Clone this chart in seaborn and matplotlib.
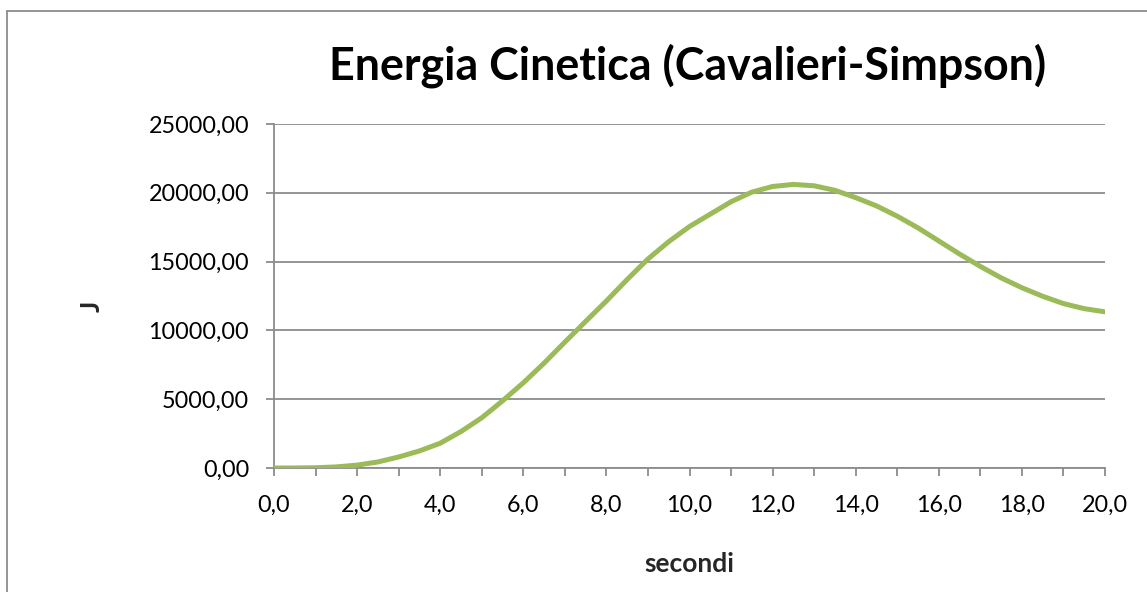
import numpy as np
import pandas as pd
import matplotlib
matplotlib.use("Agg")
import matplotlib.pyplot as plt
from matplotlib.lines import Line2D
from matplotlib.ticker import FuncFormatter, MultipleLocator
import seaborn as sns

# Kinetic energy (J) sampled every half second
tempo = [0.0, 0.5, 1.0, 1.5, 2.0, 2.5, 3.0, 3.5, 4.0, 4.5, 5.0,
         5.5, 6.0, 6.5, 7.0, 7.5, 8.0, 8.5, 9.0, 9.5, 10.0,
         10.5, 11.0, 11.5, 12.0, 12.5, 13.0, 13.5, 14.0, 14.5, 15.0,
         15.5, 16.0, 16.5, 17.0, 17.5, 18.0, 18.5, 19.0, 19.5, 20.0]
energia = [0, 2, 20, 80, 210, 440, 800, 1240, 1800, 2650, 3650,
           4880, 6190, 7620, 9150, 10650, 12140, 13700, 15190, 16450, 17550,
           18450, 19350, 20050, 20460, 20610, 20510, 20180, 19650, 19050, 18300,
           17450, 16500, 15550, 14650, 13820, 13100, 12480, 11950, 11580, 11350]

titolo = "Energia Cinetica (Cavalieri-Simpson)"
etichetta_x = "secondi"
etichetta_y = "J"

df = pd.DataFrame({"t": tempo, "E": energia})

sns.set_theme(style="white")
plt.rcParams["font.family"] = ["Lato", "DejaVu Sans"]

W, H = 1147, 592
fig = plt.figure(figsize=(W / 100, H / 100), dpi=100)
ax = fig.add_axes([274 / W, 1 - 468 / H, (1105 - 274) / W, (468 - 124) / H])

grey = "#8c8c8c"
sns.lineplot(data=df, x="t", y="E", ax=ax, color="#9bbb59", linewidth=3.6,
             solid_capstyle="round", solid_joinstyle="round", zorder=3)

ax.set_xlim(0, 20)
ax.set_ylim(0, 25000)
ax.xaxis.set_major_locator(MultipleLocator(2))
ax.xaxis.set_minor_locator(MultipleLocator(1))
ax.yaxis.set_major_locator(MultipleLocator(5000))
ax.xaxis.set_major_formatter(FuncFormatter(lambda v, p: f"{v:.1f}".replace(".", ",")))
ax.yaxis.set_major_formatter(FuncFormatter(lambda v, p: f"{v:.2f}".replace(".", ",")))

ax.grid(axis="y", color=grey, linewidth=1.3)
ax.grid(axis="x", visible=False)
ax.set_axisbelow(True)

for s in ["top", "right"]:
    ax.spines[s].set_visible(False)
for s in ["left", "bottom"]:
    ax.spines[s].set_color(grey)
    ax.spines[s].set_linewidth(1.3)

ax.tick_params(axis="both", which="both", direction="out", color=grey,
               width=1.3, length=6, labelsize=16.8, labelcolor="black")
ax.tick_params(axis="x", which="both", bottom=True, pad=13)
ax.tick_params(axis="y", which="major", left=True, pad=12)

ax.set_xlabel(etichetta_x, fontsize=19, fontweight="bold", labelpad=26)
ax.set_ylabel(etichetta_y, fontsize=19, fontweight="bold", labelpad=0)
ax.yaxis.set_label_coords((104 - 274) / (1105 - 274), 0.47)

fig.text(688 / W, 1 - 79 / H, titolo, ha="center", va="baseline",
         fontsize=32.2, fontweight="bold", color="black")

# outer chart frame
fig.add_artist(Line2D([7 / W, 7 / W], [0, 1 - 11 / H], color=grey, linewidth=1.3))
fig.add_artist(Line2D([7 / W, 1], [1 - 11 / H, 1 - 11 / H], color=grey, linewidth=1.3))

fig.savefig("out.png", dpi=100, facecolor="white")
